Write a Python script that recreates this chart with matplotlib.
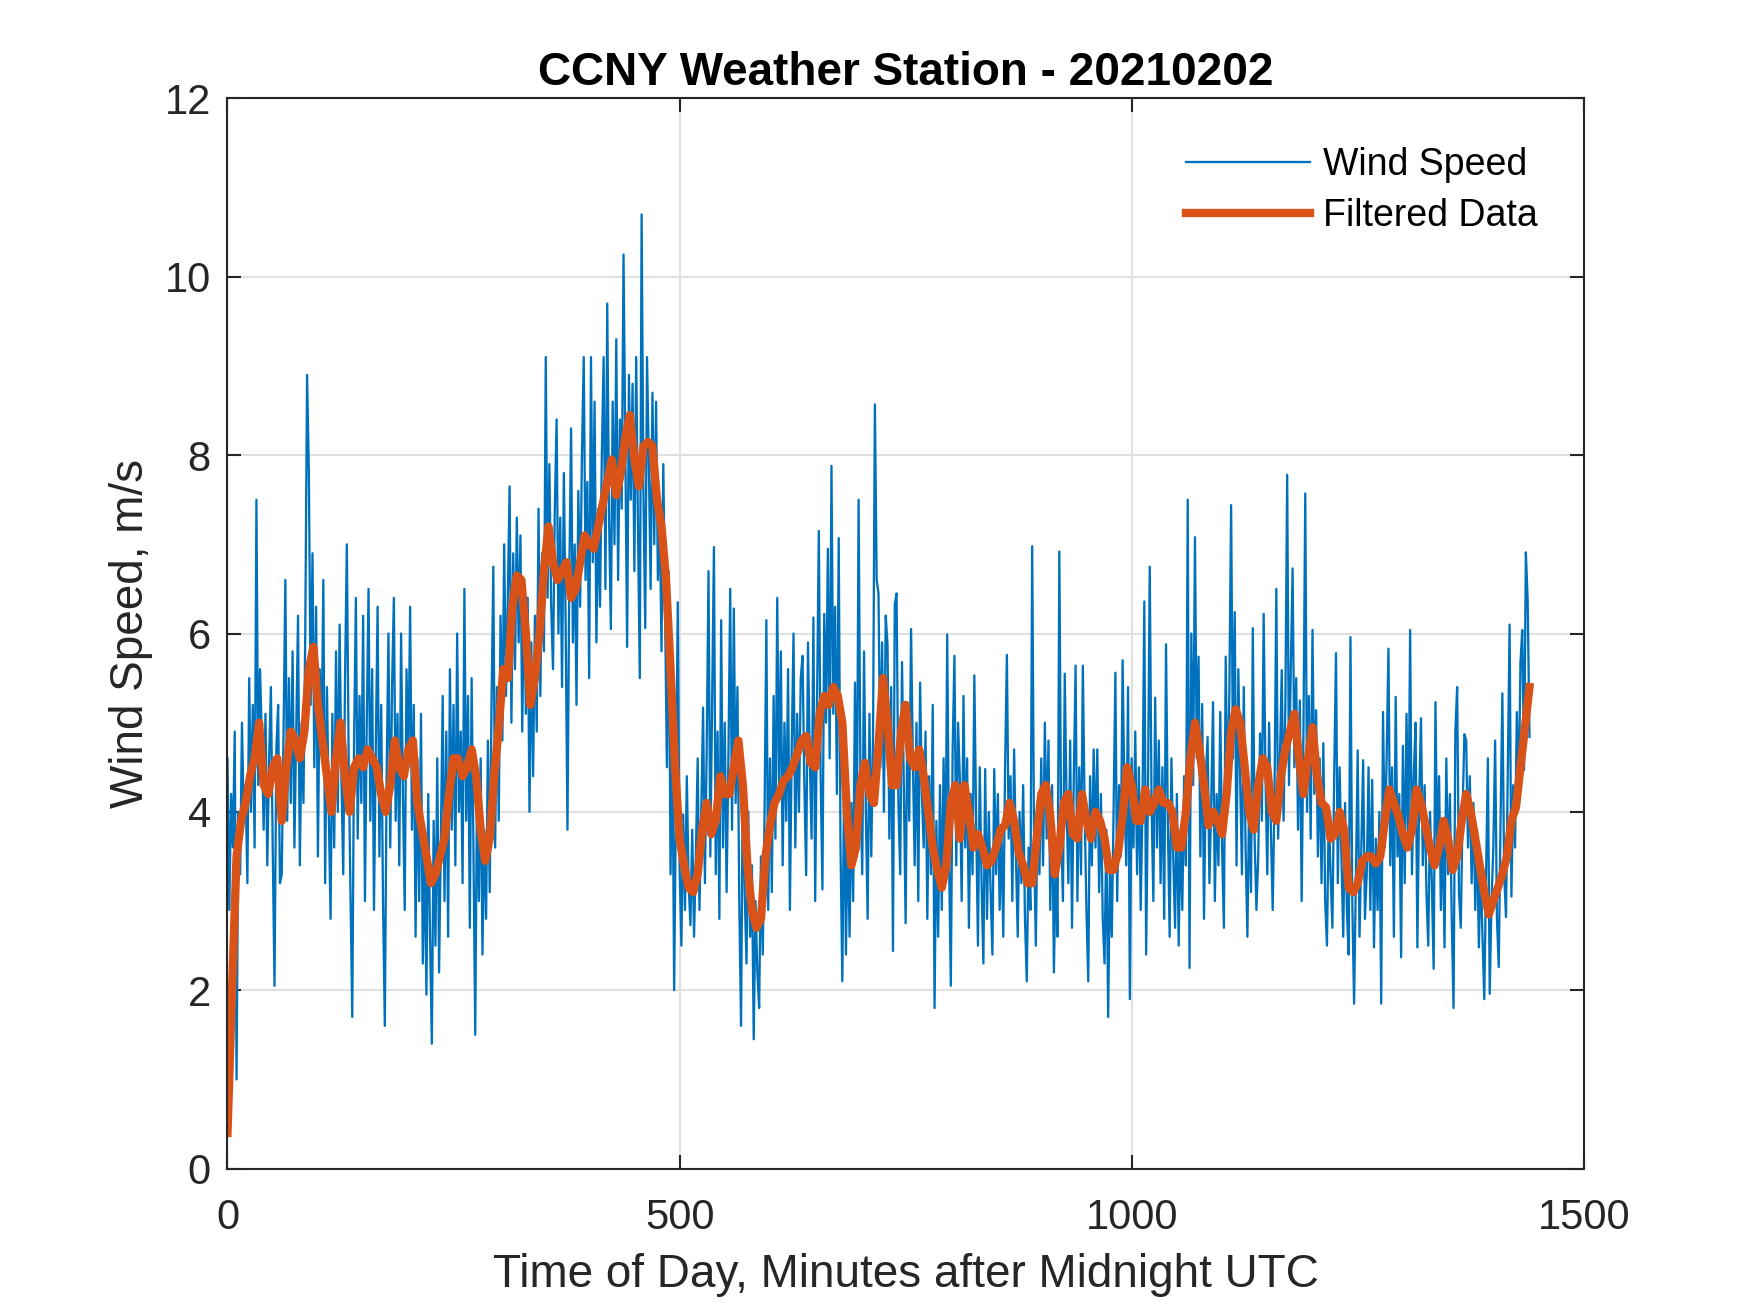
import numpy as np
import matplotlib.pyplot as plt

# raw 1-minute wind speed, one row per hour (every 2 min)
wind_speed = [
    4.6, 2.9, 4.2, 3.6, 4.9, 1.0, 4.0, 3.3, 5.0, 3.9, 4.3, 3.2, 5.5, 4.0, 5.2, 3.6, 7.5, 4.3, 5.6, 4.8, 3.8, 5.1, 3.4, 4.6, 5.4, 3.6, 2.05, 4.7, 5.2, 3.2,
    3.3, 4.9, 6.6, 3.9, 5.5, 4.1, 5.8, 3.6, 4.9, 6.2, 3.4, 5.0, 4.1, 6.0, 8.9, 7.8, 5.2, 6.9, 4.5, 6.3, 3.5, 5.6, 4.7, 6.6, 3.2, 5.4, 4.0, 2.8, 5.1, 3.6,
    5.8, 4.0, 6.1, 4.4, 3.3, 5.5, 7.0, 4.6, 3.1, 1.7, 4.8, 6.4, 3.7, 5.3, 4.1, 6.2, 3.0, 5.0, 6.5, 3.9, 5.6, 2.9, 4.7, 6.3, 3.5, 5.2, 3.0, 1.6, 4.4, 6.0,
    3.6, 5.4, 6.4, 3.9, 5.1, 3.4, 6.0, 4.2, 2.9, 5.6, 4.5, 6.3, 3.8, 5.2, 2.6, 4.6, 3.0, 5.1, 2.3, 3.6, 1.95, 4.2, 2.6, 1.4, 3.9, 2.5, 4.6, 2.2, 3.7, 5.3,
    3.0, 4.9, 2.6, 5.6, 3.8, 5.2, 3.4, 6.0, 4.0, 4.9, 3.2, 6.5, 3.9, 5.3, 2.7, 5.5, 3.6, 1.5, 4.4, 3.0, 4.6, 2.4, 3.8, 2.8, 4.8, 3.1, 5.2, 6.75, 3.6, 5.4,
    3.9, 6.2, 4.8, 7.0, 5.3, 6.4, 7.65, 5.0, 6.9, 5.6, 7.3, 5.9, 7.1, 4.9, 6.6, 5.1, 6.4, 4.0, 5.9, 4.4, 6.2, 4.9, 7.4, 5.3, 6.9, 5.8, 9.1, 6.4, 7.9, 6.3,
    5.6, 7.4, 8.4, 6.0, 7.3, 5.4, 7.8, 6.1, 3.8, 6.6, 8.3, 5.9, 7.0, 5.2, 7.6, 6.3, 8.0, 9.1, 6.6, 7.7, 5.5, 9.1, 6.8, 8.6, 5.9, 7.4, 6.3, 8.0, 9.1, 6.5,
    9.7, 7.3, 6.05, 8.6, 7.0, 9.3, 6.6, 8.4, 7.4, 10.25, 8.1, 5.85, 8.9, 7.5, 8.8, 6.7, 9.1, 7.2, 5.5, 10.7, 7.6, 6.06, 9.1, 7.9, 6.5, 8.7, 7.0, 8.6, 6.6, 7.4,
    5.8, 7.9, 6.2, 4.5, 6.7, 3.3, 5.0, 2.0, 4.2, 6.35, 3.4, 2.5, 3.97, 2.9, 4.4, 3.2, 2.73, 3.8, 2.6, 3.5, 4.6, 2.9, 4.0, 5.17, 3.2, 4.7, 6.7, 3.5, 5.2, 6.97,
    3.3, 4.9, 2.8, 6.15, 3.6, 5.0, 3.1, 4.6, 6.5, 3.8, 6.28, 4.1, 5.4, 3.0, 1.6, 4.5, 3.1, 2.3, 4.0, 2.6, 3.4, 1.45, 3.0, 2.2, 1.8, 3.5, 2.4, 4.0, 6.15, 2.9,
    4.6, 3.1, 5.3, 3.7, 6.4, 4.2, 5.8, 3.4, 5.0, 3.9, 5.6, 2.9, 4.7, 6.0, 3.6, 5.1, 4.0, 5.5, 5.75, 4.3, 3.29, 5.9, 4.6, 3.7, 6.18, 3.0, 5.2, 7.15, 4.4, 3.13,
    6.22, 5.0, 6.95, 4.6, 7.88, 5.1, 6.3, 4.2, 7.07, 3.6, 2.1, 4.4, 2.4, 3.9, 2.6, 4.1, 3.0, 5.45, 3.5, 7.5, 4.4, 3.3, 5.8, 4.0, 2.8, 5.1, 3.5, 4.9, 8.57, 6.6,
    6.45, 4.5, 5.9, 4.0, 6.2, 5.87, 3.7, 5.4, 2.44, 6.33, 6.45, 4.1, 3.3, 5.68, 4.3, 2.75, 5.2, 3.9, 6.05, 4.6, 3.4, 5.0, 3.0, 5.45, 4.2, 3.6, 4.9, 2.8, 4.4, 3.3,
    5.2, 1.8, 3.9, 2.6, 4.3, 2.9, 4.6, 3.2, 5.99, 3.5, 2.05, 4.7, 5.75, 3.4, 5.0, 4.37, 3.0, 5.3, 3.6, 4.6, 2.7, 4.2, 3.3, 5.53, 3.9, 2.5, 4.5, 3.2, 2.3, 4.48,
    2.8, 4.0, 3.1, 2.4, 4.48, 3.3, 4.2, 2.9, 3.8, 2.6, 4.5, 5.76, 3.7, 4.4, 3.0, 4.7, 3.5, 2.6, 4.0, 3.2, 4.3, 2.8, 2.1, 3.6, 2.9, 6.98, 3.7, 2.5, 4.1, 3.3,
    4.6, 3.4, 5.0, 3.7, 4.8, 2.9, 4.3, 2.2, 3.4, 2.6, 6.92, 3.8, 3.0, 5.55, 4.1, 3.2, 4.8, 2.7, 4.4, 5.64, 3.0, 4.5, 3.3, 5.64, 4.0, 2.9, 2.1, 4.4, 3.4, 4.7,
    3.6, 4.7, 3.1, 4.2, 2.8, 2.3, 3.8, 1.7, 3.4, 2.6, 4.0, 5.56, 3.0, 4.3, 3.5, 5.7, 4.2, 3.4, 5.4, 1.9, 4.6, 3.6, 4.9, 3.3, 4.5, 2.9, 4.1, 6.36, 2.4, 4.2,
    6.75, 4.1, 3.0, 5.28, 3.6, 4.8, 3.2, 4.5, 2.8, 5.88, 3.9, 2.6, 4.6, 3.5, 2.7, 4.2, 2.5, 3.8, 2.9, 4.4, 3.4, 7.5, 2.25, 6.0, 4.3, 7.08, 4.6, 5.74, 3.5, 5.21,
    2.8, 4.4, 4.84, 3.2, 4.1, 5.23, 3.0, 4.2, 3.4, 5.12, 3.6, 2.7, 5.74, 4.0, 5.3, 7.44, 4.6, 6.24, 3.4, 5.6, 4.36, 3.3, 5.4, 3.6, 2.6, 4.2, 3.1, 6.06, 3.7, 2.9,
    3.5, 4.88, 3.9, 6.22, 4.4, 3.3, 5.0, 3.8, 2.9, 4.2, 6.5, 3.7, 4.6, 5.59, 3.9, 5.2, 7.78, 4.3, 5.6, 6.73, 4.5, 5.5, 3.8, 5.25, 3.0, 4.9, 7.57, 4.0, 5.3, 3.7,
    6.04, 4.2, 5.14, 3.5, 4.6, 3.2, 4.77, 3.0, 2.5, 4.0, 3.3, 2.7, 4.4, 5.78, 3.2, 4.5, 3.5, 2.6, 4.1, 2.9, 2.4, 5.96, 3.0, 1.85, 3.3, 4.69, 2.6, 3.6, 4.58, 2.8,
    3.3, 4.5, 2.9, 4.36, 2.48, 3.7, 2.9, 4.0, 1.85, 5.12, 3.6, 4.6, 5.83, 3.4, 4.5, 2.6, 5.29, 3.5, 4.2, 2.37, 4.74, 3.2, 5.1, 3.6, 6.04, 3.3, 4.4, 5.0, 2.48, 4.2,
    5.05, 3.4, 4.3, 3.1, 2.5, 4.0, 3.2, 2.24, 5.23, 3.5, 4.4, 2.9, 3.9, 2.48, 4.6, 3.3, 4.2, 2.8, 1.8, 4.9, 5.4, 3.1, 2.7, 4.0, 4.87, 4.8, 3.6, 4.4, 3.2, 4.1,
    2.9, 3.8, 2.48, 3.4, 2.6, 1.9, 3.3, 4.6, 1.96, 3.0, 3.6, 4.8, 2.8, 2.26, 3.9, 5.33, 3.3, 2.82, 4.5, 6.1, 3.05, 4.3, 3.6, 5.12, 4.1, 5.67, 6.04, 4.47, 6.91, 6.37,
    4.84,
]
wind_minutes = np.arange(0, 1441, 2)

# filtered curve read every 5 minutes
filtered = [
    0.4, 2.0, 3.5, 3.9, 4.1, 4.4, 4.6, 5.0, 4.3, 4.2, 4.5, 4.6,
    3.9, 4.5, 4.9, 4.8, 4.6, 4.9, 5.6, 5.85, 5.2, 4.8, 4.4, 4.0,
    4.6, 5.0, 4.4, 4.0, 4.5, 4.6, 4.5, 4.7, 4.6, 4.5, 4.2, 4.0,
    4.3, 4.8, 4.5, 4.4, 4.7, 4.8, 4.1, 3.8, 3.5, 3.2, 3.3, 3.5,
    3.7, 4.2, 4.6, 4.6, 4.4, 4.5, 4.7, 4.4, 3.8, 3.45, 3.7, 4.4,
    4.95, 5.6, 5.5, 6.3, 6.65, 6.6, 6.0, 5.2, 5.5, 6.0, 6.7, 7.2,
    6.8, 6.6, 6.7, 6.8, 6.4, 6.5, 6.8, 7.1, 7.0, 6.95, 7.2, 7.45,
    7.7, 7.95, 7.55, 7.8, 8.2, 8.45, 7.95, 7.65, 8.1, 8.15, 8.1, 7.5,
    7.2, 6.6, 5.6, 4.5, 3.7, 3.4, 3.15, 3.1, 3.3, 3.8, 4.1, 3.75,
    3.9, 4.4, 4.2, 4.2, 4.5, 4.8, 4.3, 3.4, 2.9, 2.7, 2.8, 3.5,
    3.85, 4.1, 4.2, 4.35, 4.4, 4.5, 4.65, 4.8, 4.85, 4.55, 4.5, 5.1,
    5.3, 5.2, 5.4, 5.3, 5.0, 4.0, 3.4, 3.6, 4.3, 4.55, 4.2, 4.1,
    4.75, 5.5, 5.0, 4.3, 4.3, 4.9, 5.2, 4.6, 4.5, 4.7, 4.4, 4.0,
    3.6, 3.35, 3.15, 3.4, 4.1, 4.3, 3.7, 4.3, 4.0, 3.6, 3.75, 3.6,
    3.4, 3.45, 3.6, 3.8, 3.85, 4.1, 3.9, 3.55, 3.4, 3.2, 3.2, 3.7,
    4.2, 4.3, 3.95, 3.3, 3.6, 4.1, 4.2, 3.75, 3.7, 4.2, 3.9, 3.7,
    4.0, 3.9, 3.7, 3.35, 3.35, 3.55, 3.95, 4.5, 4.3, 3.9, 3.9, 4.25,
    4.0, 4.1, 4.25, 4.1, 4.1, 4.0, 3.6, 3.6, 4.0, 4.6, 5.0, 4.7,
    4.3, 3.85, 4.0, 3.9, 3.75, 4.2, 4.9, 5.15, 5.0, 4.5, 4.0, 3.8,
    4.3, 4.6, 4.5, 4.0, 3.9, 4.4, 4.7, 4.9, 5.1, 4.6, 4.2, 4.6,
    4.95, 4.4, 4.1, 4.05, 3.7, 3.75, 4.0, 3.8, 3.15, 3.1, 3.2, 3.45,
    3.5, 3.5, 3.42, 3.5, 3.9, 4.25, 4.1, 3.95, 3.75, 3.6, 3.8, 4.25,
    4.1, 3.85, 3.6, 3.4, 3.6, 3.9, 3.7, 3.35, 3.5, 3.9, 4.2, 4.0,
    3.7, 3.4, 3.1, 2.85, 3.0, 3.15, 3.3, 3.5, 3.9, 4.05, 4.5, 4.95,
    5.4,
]
filtered_minutes = np.arange(0, 1441, 5)

plt.rcParams['font.family'] = ['Liberation Sans', 'DejaVu Sans']
axis_gray = '#262626'

fig = plt.figure(figsize=(5.8333, 4.3767), dpi=300)
ax = fig.add_axes([0.13, 0.11, 0.775, 0.815])

ax.plot(wind_minutes, wind_speed, color='#0072BD', lw=0.55, label='Wind Speed')
ax.plot(filtered_minutes, filtered, color='#D95319', lw=2.0, label='Filtered Data')

ax.set_xlim(0, 1500)
ax.set_ylim(0, 12)
ax.set_xticks([0, 500, 1000, 1500])
ax.set_yticks(range(0, 13, 2))
ax.grid(True, color='#e0e0e0', lw=0.5)
ax.set_axisbelow(True)

for s in ax.spines.values():
    s.set_color(axis_gray)
    s.set_linewidth(0.5)
ax.tick_params(direction='in', length=3.3, width=0.5, colors=axis_gray,
               labelsize=10, top=True, right=True)
ax.tick_params(axis='x', pad=7)
ax.tick_params(axis='y', pad=4)
for lab in ax.get_xticklabels() + ax.get_yticklabels():
    lab.set_color(axis_gray)

ax.set_title('CCNY Weather Station - 20210202', fontsize=11, fontweight='bold', pad=3.3)
ax.set_xlabel('Time of Day, Minutes after Midnight UTC', fontsize=11, color=axis_gray, labelpad=3.6)
ax.set_ylabel('Wind Speed, m/s', fontsize=11, color=axis_gray, labelpad=2.8)

leg = ax.legend(loc='upper right', bbox_to_anchor=(0.994, 0.990), frameon=False,
                fontsize=9, handlelength=3.3, handletextpad=0.36,
                borderaxespad=0.6, labelspacing=0.4)

fig.savefig('out.png', dpi=300)
